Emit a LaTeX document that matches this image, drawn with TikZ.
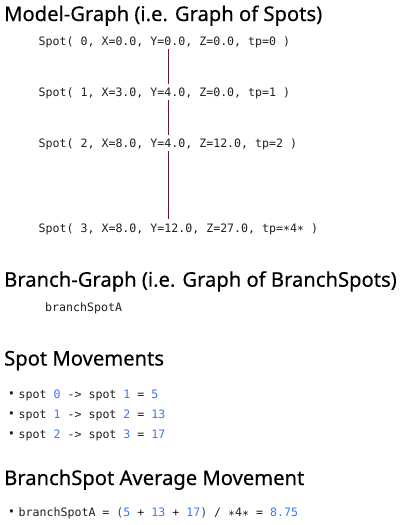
\documentclass[tikz,border=0pt]{standalone}
\usepackage{fontspec}
\setmainfont{Noto Sans}
\newfontfamily\headfont[FakeBold=0.35]{Noto Sans}
\newfontfamily\codefont{DejaVu Sans Mono}
\definecolor{ink}{HTML}{1F1F1F}
\definecolor{numblue}{HTML}{3F74F2}
\definecolor{parencol}{HTML}{3A3F66}
\definecolor{edgecol}{HTML}{6E143C}
\newcommand\numtok[1]{\textcolor{numblue}{#1}}
\newcommand\partok[1]{\textcolor{parencol}{#1}}
\newcommand\asttok{\raisebox{-2.6pt}{*}}
\begin{document}
\begin{tikzpicture}[x=1pt,y=1pt,
  heading/.style={anchor=base west, inner sep=0pt, font=\headfont\fontsize{20.2}{23}\selectfont, text=black},
  spotnode/.style={anchor=base west, inner xsep=0pt, inner ysep=0pt, text height=12.5pt, text depth=3.5pt, font=\codefont\fontsize{11.6}{14}\selectfont, text=ink},
  code/.style={anchor=base west, inner sep=0pt, font=\codefont\fontsize{11.6}{14}\selectfont, text=ink},
  bulletmark/.style={anchor=base, inner sep=0pt, font=\fontsize{14}{16}\selectfont, text=ink},
  link/.style={draw=edgecol, line width=1pt}]
\useasboundingbox (0,0) rectangle (402,-525);

% model graph
\node[heading] (h1) at (4,-21) {Model-Graph (i.e. Graph of Spots)};
\coordinate (axis) at (168,0);
\node[spotnode] (s0) at (38.5,-45.3) {Spot( 0, X=0.0, Y=0.0, Z=0.0, tp=0 )};
\node[spotnode] (s1) at (38.5,-96.7) {Spot( 1, X=3.0, Y=4.0, Z=0.0, tp=1 )};
\node[spotnode] (s2) at (38.5,-147.3) {Spot( 2, X=8.0, Y=4.0, Z=12.0, tp=2 )};
\node[spotnode] (s3) at (38.5,-232) {Spot( 3, X=8.0, Y=12.0, Z=27.0, tp=\asttok4\asttok{} )};
\draw[link] (s0.south -| axis) -- (s1.north -| axis);
\draw[link] (s1.south -| axis) -- (s2.north -| axis);
\draw[link] (s2.south -| axis) -- (s3.north -| axis);

% branch graph
\node[heading] (h2) at (4,-286.7) {Branch-Graph (i.e. Graph of BranchSpots)};
\node[code] (b0) at (45,-311.7) {branchSpotA};

% spot movements
\node[heading] (h3) at (4,-365.5) {Spot Movements};
\node[bulletmark] (d1) at (11.6,-398.3) {•};
\node[code] (m1) at (18.5,-398.3) {spot \numtok{0} -> spot \numtok{1} = \numtok{5}};
\node[bulletmark] (d2) at (11.6,-418.3) {•};
\node[code] (m2) at (18.5,-418.3) {spot \numtok{1} -> spot \numtok{2} = \numtok{13}};
\node[bulletmark] (d3) at (11.6,-438.3) {•};
\node[code] (m3) at (18.5,-438.3) {spot \numtok{2} -> spot \numtok{3} = \numtok{17}};

% average movement
\node[heading] (h4) at (4,-485) {BranchSpot Average Movement};
\node[bulletmark] (d4) at (11.6,-516.7) {•};
\node[code] (a1) at (18.5,-516.7) {branchSpotA = \partok{(}\numtok{5} + \numtok{13} + \numtok{17}\partok{)} / \asttok4\asttok{} = \numtok{8.75}};
\end{tikzpicture}
\end{document}
